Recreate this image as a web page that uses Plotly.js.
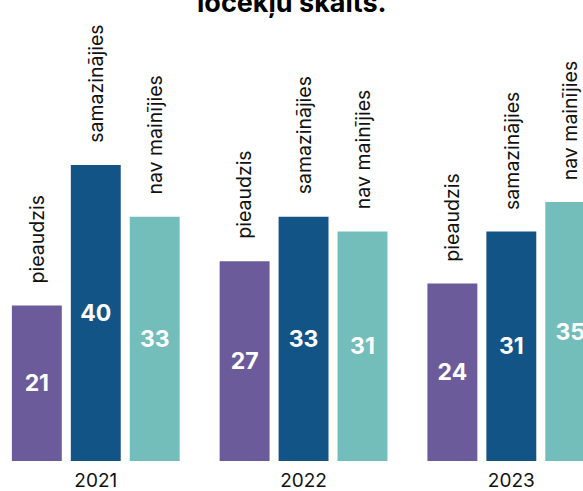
<!DOCTYPE html>
<html>
<head>
<meta charset="utf-8">
<script src="https://cdn.plot.ly/plotly-3.0.1.min.js"></script>
<style>
html,body{margin:0;padding:0;background:#fff;}
#chart{width:583px;height:491px;}
</style>
</head>
<body>
<div id="chart"></div>
<script>
// ---- data ----
const years = ['2021', '2022', '2023'];
const seriesNames = ['pieaudzis', 'samazinājies', 'nav mainījies'];
const pieaudzis = [21, 27, 24];
const samazinajies = [40, 33, 31];
const navMainijies = [33, 31, 35];
const titleText = 'locekļu skaits.';

const seriesValues = [pieaudzis, samazinajies, navMainijies];
const colors = ['#6b5b9a', '#135487', '#73bebb'];
const FONT = 'Inter, "Open Sans", sans-serif';

const traces = seriesValues.map((vals, i) => ({
  type: 'bar',
  name: seriesNames[i],
  x: years,
  y: vals,
  marker: {color: colors[i]},
  text: vals.map(String),
  textposition: 'inside',
  insidetextanchor: 'middle',
  textangle: 0,
  textfont: {family: FONT, size: 23, color: '#ffffff', weight: 700},
  hoverinfo: 'skip'
}));

const annotations = [];
seriesValues.forEach((vals, i) => {
  vals.forEach((v, j) => {
    annotations.push({
      x: j, y: v, xref: 'x', yref: 'y',
      xshift: (i - 1) * 59, yshift: 20,
      text: seriesNames[i], textangle: -90,
      xanchor: 'center', yanchor: 'bottom',
      showarrow: false,
      font: {family: FONT, size: 19.5, color: '#111111'}
    });
  });
});
annotations.push({
  x: 0.5, y: 1, xref: 'paper', yref: 'paper',
  xanchor: 'center', yanchor: 'middle', yshift: -2,
  text: '<b>' + titleText + '</b>', showarrow: false,
  font: {family: FONT, size: 27, color: '#000000'}
});

const layout = {
  width: 583, height: 491,
  margin: {l: 0, r: 0, t: 0, b: 30, pad: 0},
  paper_bgcolor: '#ffffff', plot_bgcolor: '#ffffff',
  showlegend: false,
  barmode: 'group',
  bargap: 0.149,
  bargroupgap: 0.153,
  xaxis: {
    type: 'category',
    range: [-0.461, 2.345],
    showgrid: false, zeroline: false, showline: false, ticks: '',
    tickfont: {family: FONT, size: 19, color: '#111111'},
    ticklabelstandoff: 6,
    fixedrange: true
  },
  yaxis: {
    range: [0, 62.3],
    visible: false, showgrid: false, zeroline: false,
    fixedrange: true
  },
  annotations: annotations
};

Plotly.newPlot('chart', traces, layout, {displayModeBar: false, staticPlot: true});
</script>
</body>
</html>
